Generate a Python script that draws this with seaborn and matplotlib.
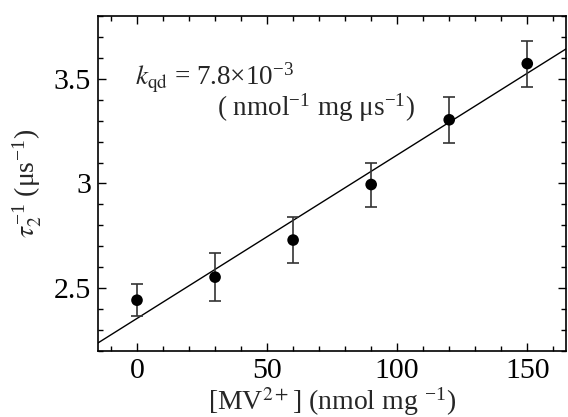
import numpy as np
import matplotlib.pyplot as plt
import seaborn as sns
from matplotlib.ticker import MultipleLocator

# data
mv_conc = [0, 30, 60, 90, 120, 150]
inv_tau = [2.443, 2.553, 2.730, 2.995, 3.304, 3.572]
inv_tau_err = [0.077, 0.115, 0.110, 0.105, 0.110, 0.110]

# linear fit
slope = 7.8e-3
intercept = 2.356

sns.set_style("ticks")
plt.rcParams['font.family'] = ['Liberation Serif', 'DejaVu Serif']
plt.rcParams['mathtext.fontset'] = 'stix'

fig, ax = plt.subplots(figsize=(5.68, 4.17), dpi=100)
plt.subplots_adjust(left=0.1725, right=0.997, top=0.962, bottom=0.158)

xlim = (-15, 165)
fit_x = np.array(xlim)
sns.lineplot(x=fit_x, y=intercept + slope * fit_x, color='black', lw=1.0, ax=ax)

ax.errorbar(mv_conc, inv_tau, yerr=inv_tau_err, fmt='none', ecolor='#333333',
            elinewidth=1.2, capsize=4.5, capthick=1.2)
sns.scatterplot(x=mv_conc, y=inv_tau, color='black', s=70, edgecolor='none', ax=ax,
                zorder=3)

ax.set_xlim(*xlim)
ax.set_ylim(2.2, 3.8)
ax.xaxis.set_major_locator(MultipleLocator(50))
ax.xaxis.set_minor_locator(MultipleLocator(10))
ax.yaxis.set_major_locator(MultipleLocator(0.5))
ax.yaxis.set_minor_locator(MultipleLocator(0.1))
ax.set_yticks([2.5, 3.0, 3.5], ['2.5', '3', '3.5'])

ax.tick_params(which='both', direction='in', top=True, right=True, width=1.0,
               labelsize=21.5, colors='black', pad=5)
ax.tick_params(which='major', length=6)
ax.tick_params(which='minor', length=3.5)
for s in ax.spines.values():
    s.set_linewidth(1.2)
    s.set_color('black')

ax.set_xlabel(r'[MV$^{2+}$] (nmol mg $^{\mathregular{-1}}$)', fontsize=20, labelpad=1)
ax.set_ylabel(r'$\tau_2^{\mathregular{-1}}$ (μs$^{\mathregular{-1}}$)', fontsize=20,
              labelpad=6)

ax.text(0.08, 0.795, r'$k_{\rm qd}$ = 7.8×10$^{\mathregular{-3}}$', transform=ax.transAxes,
        fontsize=19.5, ha='left', va='baseline')
ax.text(0.255, 0.702, r'( nmol$^{\mathregular{-1}}$ mg μs$^{\mathregular{-1}}$)',
        transform=ax.transAxes, fontsize=19.5, ha='left', va='baseline')

plt.savefig('out.png', dpi=100)
